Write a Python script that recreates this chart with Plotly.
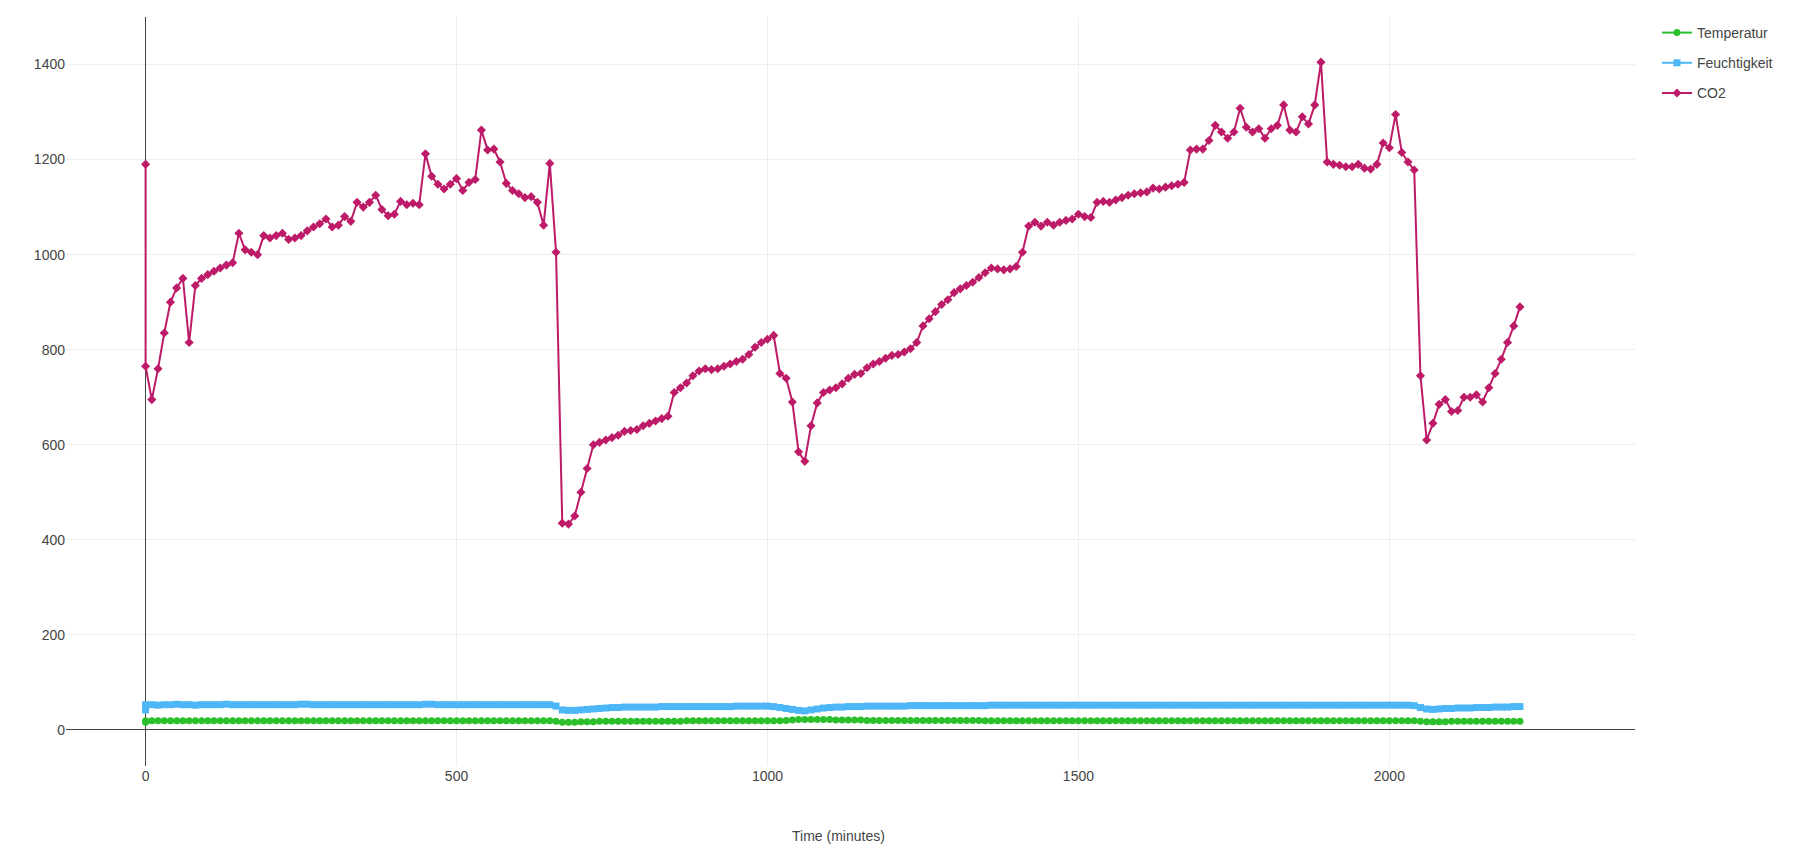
import plotly.graph_objects as go

time_min = [
    0, 0, 10, 20, 30, 40, 50, 60, 70, 80, 90,
    100, 110, 120, 130, 140, 150, 160, 170, 180, 190,
    200, 210, 220, 230, 240, 250, 260, 270, 280, 290,
    300, 310, 320, 330, 340, 350, 360, 370, 380, 390,
    400, 410, 420, 430, 440, 450, 460, 470, 480, 490,
    500, 510, 520, 530, 540, 550, 560, 570, 580, 590,
    600, 610, 620, 630, 640, 650, 660, 670, 680, 690,
    700, 710, 720, 730, 740, 750, 760, 770, 780, 790,
    800, 810, 820, 830, 840, 850, 860, 870, 880, 890,
    900, 910, 920, 930, 940, 950, 960, 970, 980, 990,
    1000, 1010, 1020, 1030, 1040, 1050, 1060, 1070, 1080, 1090,
    1100, 1110, 1120, 1130, 1140, 1150, 1160, 1170, 1180, 1190,
    1200, 1210, 1220, 1230, 1240, 1250, 1260, 1270, 1280, 1290,
    1300, 1310, 1320, 1330, 1340, 1350, 1360, 1370, 1380, 1390,
    1400, 1410, 1420, 1430, 1440, 1450, 1460, 1470, 1480, 1490,
    1500, 1510, 1520, 1530, 1540, 1550, 1560, 1570, 1580, 1590,
    1600, 1610, 1620, 1630, 1640, 1650, 1660, 1670, 1680, 1690,
    1700, 1710, 1720, 1730, 1740, 1750, 1760, 1770, 1780, 1790,
    1800, 1810, 1820, 1830, 1840, 1850, 1860, 1870, 1880, 1890,
    1900, 1910, 1920, 1930, 1940, 1950, 1960, 1970, 1980, 1990,
    2000, 2010, 2020, 2030, 2040, 2050, 2060, 2070, 2080, 2090,
    2100, 2110, 2120, 2130, 2140, 2150, 2160, 2170, 2180, 2190,
    2200, 2210,
]

co2 = [
    1190, 765, 695, 760, 835, 900, 930, 950, 815, 935, 950,
    958, 965, 972, 978, 983, 1045, 1010, 1005, 1000, 1040,
    1035, 1040, 1045, 1032, 1035, 1040, 1050, 1058, 1065, 1075,
    1058, 1062, 1080, 1070, 1110, 1100, 1110, 1125, 1095, 1082,
    1085, 1112, 1105, 1108, 1105, 1212, 1165, 1148, 1138, 1148,
    1160, 1135, 1152, 1158, 1262, 1220, 1222, 1195, 1150, 1135,
    1128, 1120, 1122, 1110, 1062, 1192, 1005, 435, 433, 450,
    500, 550, 600, 605, 610, 615, 620, 628, 630, 632,
    640, 645, 650, 655, 660, 710, 720, 730, 745, 755,
    760, 758, 760, 765, 770, 775, 780, 790, 805, 815,
    822, 830, 750, 740, 690, 585, 565, 640, 688, 710,
    715, 720, 728, 740, 748, 750, 762, 770, 775, 782,
    788, 790, 795, 802, 815, 850, 865, 880, 895, 905,
    920, 928, 935, 942, 952, 962, 972, 970, 968, 970,
    975, 1005, 1060, 1068, 1060, 1068, 1062, 1068, 1072, 1075,
    1085, 1080, 1078, 1110, 1112, 1110, 1115, 1120, 1125, 1128,
    1130, 1132, 1140, 1138, 1142, 1145, 1148, 1152, 1220, 1222,
    1222, 1240, 1272, 1258, 1245, 1258, 1308, 1268, 1258, 1265,
    1245, 1265, 1272, 1315, 1262, 1258, 1290, 1275, 1315, 1405,
    1195, 1190, 1188, 1185, 1185, 1190, 1182, 1180, 1190, 1235,
    1225, 1295, 1215, 1195, 1178, 745, 610, 645, 685, 695,
    670, 672, 700, 700, 705, 690, 720, 750, 780, 815,
    850, 890,
]

feuchtigkeit = [
    42, 53, 53, 52, 53, 53, 54, 53, 53, 52, 53,
    53, 53, 53, 54, 53, 53, 53, 53, 53, 53,
    53, 53, 53, 53, 53, 54, 54, 53, 53, 53,
    53, 53, 53, 53, 53, 53, 53, 53, 53, 53,
    53, 53, 53, 53, 53, 54, 54, 53, 53, 53,
    53, 53, 53, 53, 53, 53, 53, 53, 53, 53,
    53, 53, 53, 53, 53, 53, 50, 42, 41, 41,
    42, 43, 44, 45, 46, 47, 47, 48, 48, 48,
    48, 48, 48, 49, 49, 49, 49, 49, 49, 49,
    49, 49, 49, 49, 49, 50, 50, 50, 50, 50,
    50, 49, 47, 45, 43, 41, 40, 42, 44, 46,
    47, 48, 48, 49, 49, 49, 50, 50, 50, 50,
    50, 50, 50, 51, 51, 51, 51, 51, 51, 51,
    51, 51, 51, 51, 51, 51, 52, 52, 52, 52,
    52, 52, 52, 52, 52, 52, 52, 52, 52, 52,
    52, 52, 52, 52, 52, 52, 52, 52, 52, 52,
    52, 52, 52, 52, 52, 52, 52, 52, 52, 52,
    52, 52, 52, 52, 52, 52, 52, 52, 52, 52,
    52, 52, 52, 52, 52, 52, 52, 52, 52, 52,
    52, 52, 52, 52, 52, 52, 52, 52, 52, 52,
    52, 52, 52, 52, 51, 47, 44, 43, 44, 45,
    45, 46, 46, 46, 47, 47, 47, 48, 48, 48,
    49, 49,
]

temperatur = [
    16, 19, 19, 19, 19, 19, 19, 19, 19, 19, 19,
    19, 19, 19, 19, 19, 19, 19, 19, 19, 19,
    19, 19, 19, 19, 19, 19, 19, 19, 19, 19,
    19, 19, 19, 19, 19, 19, 19, 19, 19, 19,
    19, 19, 19, 19, 19, 19, 19, 19, 19, 19,
    19, 19, 19, 19, 19, 19, 19, 19, 19, 19,
    19, 19, 19, 19, 19, 19, 18, 16, 16, 16,
    17, 17, 17, 18, 18, 18, 18, 18, 18, 18,
    18, 18, 18, 18, 18, 18, 18, 19, 19, 19,
    19, 19, 19, 19, 19, 19, 19, 19, 19, 19,
    19, 19, 19, 20, 21, 22, 22, 22, 22, 22,
    22, 21, 21, 21, 21, 21, 20, 20, 20, 20,
    20, 20, 20, 20, 20, 20, 20, 20, 20, 20,
    20, 20, 20, 20, 20, 19, 19, 19, 19, 19,
    19, 19, 19, 19, 19, 19, 19, 19, 19, 19,
    19, 19, 19, 19, 19, 19, 19, 19, 19, 19,
    19, 19, 19, 19, 19, 19, 19, 19, 19, 19,
    19, 19, 19, 19, 19, 19, 19, 19, 19, 19,
    19, 19, 19, 19, 19, 19, 19, 19, 19, 19,
    19, 19, 19, 19, 19, 19, 19, 19, 19, 19,
    19, 19, 19, 19, 19, 18, 17, 17, 17, 17,
    18, 18, 18, 18, 18, 18, 18, 18, 18, 18,
    18, 18,
]

series = [
    ("Temperatur", temperatur, "#2bbf2b", "circle"),
    ("Feuchtigkeit", feuchtigkeit, "#4db6f7", "square"),
    ("CO2", co2, "#bd1a68", "diamond"),
]

fig = go.Figure()
for name, vals, color, sym in series:
    fig.add_trace(go.Scatter(
        x=time_min, y=vals, name=name, mode="lines+markers",
        legendgroup=name,
        line=dict(color=color, width=2),
        marker=dict(color=color, size=7, symbol=sym),
    ))

fig.update_layout(
    width=1819, height=844,
    margin=dict(l=58, r=192, t=9, b=86),
    paper_bgcolor="white", plot_bgcolor="white",
    font=dict(family="Liberation Sans, Arial, sans-serif", size=14, color="#444"),
    showlegend=True,
    legend=dict(x=1.014, y=1, xanchor="left", yanchor="top",
                font=dict(size=14), traceorder="grouped", tracegroupgap=9),
    xaxis=dict(
        range=[-128, 2395], dtick=500, tick0=0,
        showgrid=True, gridcolor="#eeeeee", gridwidth=1,
        zeroline=True, zerolinecolor="#444", zerolinewidth=1,
        showline=False, ticks="",
    ),
    yaxis=dict(
        range=[-76, 1500], dtick=200, tick0=0,
        showgrid=True, gridcolor="#eeeeee", gridwidth=1,
        zeroline=True, zerolinecolor="#444", zerolinewidth=1,
        showline=False, ticks="",
    ),
    annotations=[dict(
        text="Time (minutes)", xref="paper", yref="paper",
        x=0.4925, y=-0.093, xanchor="center", yanchor="middle",
        showarrow=False, font=dict(size=14, color="#444"),
    )],
)

fig.write_html("out.html")
